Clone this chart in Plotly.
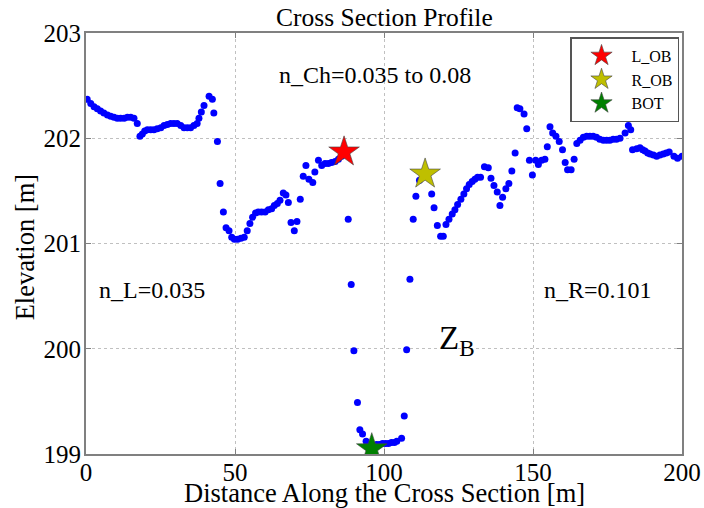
import plotly.graph_objects as go

# Survey points along the cross section
dist = [0.4, 1.6, 2.7, 3.8, 4.9, 6.0, 7.2, 8.3, 9.4, 10.5, 11.6, 12.8, 13.9, 15.0, 16.1, 17.2,
        18.1, 18.9, 19.7, 20.6, 21.7, 22.8, 23.9, 25.1, 26.2, 27.3, 28.4, 29.5, 30.6, 31.8,
        32.9, 34.0, 35.1, 36.2, 37.3, 37.9, 38.7, 39.6, 41.3, 42.4, 42.9, 44.1, 45.0, 46.1,
        47.0, 48.0, 48.9, 49.8, 50.9, 52.0, 53.1, 54.1, 55.0, 55.9, 56.9, 57.8, 58.9, 60.1,
        61.2, 62.3, 63.2, 64.2, 65.1, 66.2, 67.1, 67.9, 68.8, 69.9, 70.8, 71.9, 72.9, 73.8,
        74.8, 76.1, 76.8, 78.0, 79.1, 80.2, 81.3, 82.4, 83.6, 84.7, 85.8, 88.0, 89.0, 89.9,
        91.1, 91.9, 92.8, 94.0, 95.0, 97.5, 98.5, 99.5, 100.5, 101.5, 102.5, 103.5, 104.3,
        105.9, 106.8, 107.6, 108.7, 109.8, 110.7, 111.9, 116.0, 116.8, 117.9, 119.0, 119.9,
        120.8, 121.8, 122.9, 123.8, 124.7, 125.8, 126.8, 127.7, 128.6, 129.6, 130.5, 131.4,
        132.4, 133.7, 135.0, 135.9, 136.9, 138.0, 138.9, 139.8, 140.9, 141.9, 142.9, 144.0,
        144.7, 145.6, 147.0, 147.9, 148.8, 149.8, 150.9, 151.8, 152.9, 154.0, 154.8, 155.7,
        156.6, 157.7, 158.8, 159.9, 160.8, 161.6, 162.8, 163.8, 164.7, 165.8, 166.9, 168.0,
        169.1, 170.2, 171.3, 172.4, 173.6, 174.7, 175.8, 176.9, 178.0, 179.2, 180.9, 182.0,
        182.8, 183.4, 184.8, 185.9, 186.8, 187.6, 188.5, 189.3, 190.4, 191.5, 192.6, 193.7,
        194.7, 195.7, 197.3, 198.5, 200.0]
elev = [202.37, 202.33, 202.30, 202.28, 202.26, 202.24, 202.22, 202.21, 202.20, 202.19, 202.19,
        202.19, 202.20, 202.20, 202.19, 202.14, 202.02, 202.04, 202.07, 202.08, 202.08, 202.08,
        202.09, 202.10, 202.12, 202.13, 202.14, 202.14, 202.14, 202.12, 202.10, 202.10, 202.10,
        202.12, 202.14, 202.19, 202.25, 202.31, 202.40, 202.37, 202.24, 201.97, 201.57, 201.30,
        201.15, 201.12, 201.06, 201.04, 201.04, 201.05, 201.06, 201.12, 201.19, 201.25, 201.29,
        201.30, 201.30, 201.30, 201.32, 201.33, 201.36, 201.38, 201.41, 201.48, 201.46, 201.39,
        201.20, 201.12, 201.21, 201.42, 201.64, 201.74, 201.61, 201.58, 201.68, 201.79, 201.74,
        201.76, 201.76, 201.77, 201.78, 201.80, 201.83, 201.23, 200.61, 199.98, 199.49, 199.23,
        199.19, 199.12, 199.08, 199.09, 199.09, 199.10, 199.10, 199.10, 199.11, 199.11, 199.12,
        199.15, 199.36, 199.99, 200.66, 201.23, 201.45, 201.60, 201.47, 201.34, 201.17, 201.07,
        201.07, 201.18, 201.23, 201.28, 201.32, 201.37, 201.42, 201.47, 201.52, 201.56, 201.59,
        201.61, 201.63, 201.63, 201.73, 201.72, 201.62, 201.55, 201.49, 201.36, 201.44, 201.52,
        201.57, 201.69, 201.86, 202.29, 202.28, 202.23, 202.09, 201.79, 201.65, 201.79, 201.75,
        201.79, 201.80, 201.92, 202.11, 202.05, 202.02, 201.97, 201.89, 201.77, 201.70, 201.70,
        201.80, 201.95, 201.98, 202.01, 202.02, 202.02, 202.02, 202.01, 201.99, 201.98, 201.98,
        201.98, 201.99, 201.99, 202.00, 202.05, 202.12, 202.08, 201.89, 201.90, 201.91, 201.89,
        201.88, 201.86, 201.85, 201.84, 201.83, 201.84, 201.85, 201.86, 201.87, 201.83, 201.81,
        201.83]

# Key points
key_names = ["L_OB", "R_OB", "BOT"]
key_x = [86.6, 113.8, 95.9]
key_y = [201.87, 201.66, 199.05]
key_colors = ["#ff0000", "#bfbf00", "#008000"]

FONT = "Liberation Serif"

fig = go.Figure()
fig.add_trace(go.Scatter(x=dist, y=elev, mode="markers", showlegend=False,
                         marker=dict(color="#0000ff", size=7, line=dict(width=0))))
for n, x, y, c in zip(key_names, key_x, key_y, key_colors):
    fig.add_trace(go.Scatter(x=[x], y=[y], mode="markers", name=n,
                             marker=dict(symbol="star", size=23, color=c,
                                         line=dict(color="#444444", width=0.6))))

# In-plot annotations (data coordinates)
ann = [
    dict(x=97, y=202.6, text="n_Ch=0.035 to 0.08", size=24),
    dict(x=22.1, y=200.56, text="n_L=0.035", size=24),
    dict(x=171.8, y=200.56, text="n_R=0.101", size=24),
    dict(x=124.5, y=200.08, text="Z<sub>B</sub>", size=33),
]
for a in ann:
    fig.add_annotation(x=a["x"], y=a["y"], text=a["text"], showarrow=False,
                       font=dict(family=FONT, size=a["size"], color="black"))

# Title and axis titles (paper coordinates)
fig.add_annotation(xref="paper", yref="paper", x=0.5, y=1.038, text="Cross Section Profile",
                   showarrow=False, yanchor="middle",
                   font=dict(family=FONT, size=25.5, color="black"))
fig.add_annotation(xref="paper", yref="paper", x=0.5, y=-0.092,
                   text="Distance Along the Cross Section [m]", showarrow=False, yanchor="middle",
                   font=dict(family=FONT, size=26.5, color="black"))
fig.add_annotation(xref="paper", yref="paper", x=-0.103, y=0.49, text="Elevation [m]",
                   showarrow=False, textangle=-90, xanchor="center", yanchor="middle",
                   font=dict(family=FONT, size=26.5, color="black"))

axis_common = dict(showline=True, linecolor="#808080", linewidth=2, mirror="ticks",
                   ticks="inside", ticklen=5, tickcolor="#808080", automargin=False,
                   showgrid=True, gridcolor="#c0c0c0", griddash="dot", gridwidth=1,
                   zeroline=False, tickfont=dict(family=FONT, size=25, color="black"))

fig.update_layout(
    width=704, height=508,
    margin=dict(l=86, r=22, t=33, b=54),
    paper_bgcolor="white", plot_bgcolor="white",
    xaxis=dict(range=[0, 200], tickvals=[0, 50, 100, 150, 200], ticklabelstandoff=-5,
               **axis_common),
    yaxis=dict(range=[199, 203], tickvals=[199, 200, 201, 202, 203], ticklabelstandoff=-2,
               **axis_common),
    legend=dict(x=0.995, y=0.99, xanchor="right", yanchor="top",
                bgcolor="white", bordercolor="#555555", borderwidth=1.5,
                font=dict(family=FONT, size=16, color="black"),
                tracegroupgap=0, itemwidth=50),
)

fig.write_html("out.html", config={"displayModeBar": False},
               post_script="document.body.style.margin='0';document.body.style.padding='0';")
